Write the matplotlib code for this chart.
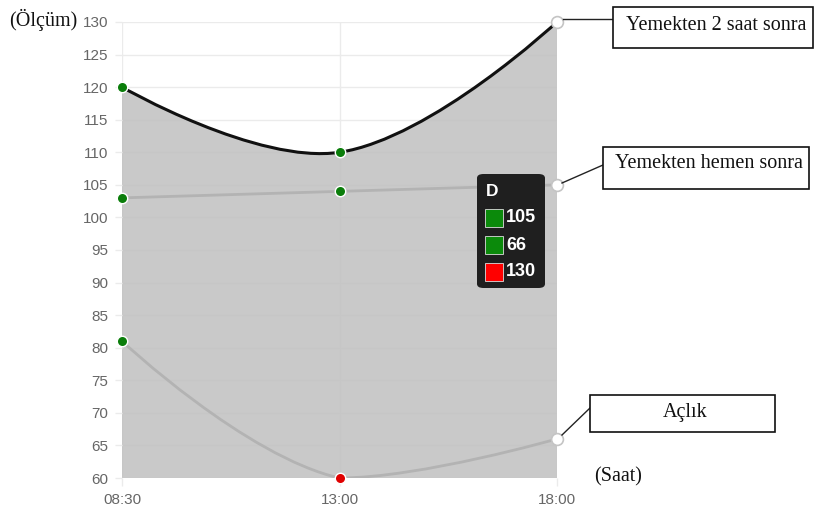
import matplotlib
matplotlib.use("Agg")
import matplotlib.pyplot as plt
from matplotlib.path import Path
from matplotlib.patches import PathPatch, FancyBboxPatch, Rectangle
from matplotlib.lines import Line2D
import numpy as np

# ---------------- data ----------------
times = ["08:30", "13:00", "18:00"]
after_2h = [120, 110, 130]          # Yemekten 2 saat sonra
right_after = [103, 104, 105]       # Yemekten hemen sonra
fasting = [81, 60, 66]              # Açlık
y_ticks = list(range(60, 131, 5))

series_names = ["Yemekten 2 saat sonra", "Yemekten hemen sonra", "Açlık"]
tooltip_title = "D"
tooltip_values = [105, 66, 130]
tooltip_colors = ["#0b8a0b", "#0b8a0b", "#ff0000"]

GREEN = "#0a7d0a"
RED = "#e00000"
point_colors_top = [GREEN, GREEN, "white"]
point_colors_mid = [GREEN, GREEN, "white"]
point_colors_low = [GREEN, RED, "white"]

# ---------------- figure ----------------
W, H = 819, 508
fig = plt.figure(figsize=(W / 100, H / 100), dpi=100)
L, R, T, B = 122, 557, 22, 478
ax = fig.add_axes([L / W, 1 - B / H, (R - L) / W, (B - T) / H])
x = np.arange(len(times))
ax.set_xlim(0, len(times) - 1)
ax.set_ylim(min(y_ticks), max(y_ticks))
sx = (R - L) / (len(times) - 1)
sy = (B - T) / (max(y_ticks) - min(y_ticks))


def fx(px):
    return px / W


def fy(py):
    return 1 - py / H


def spline(ys, tension=0.4):
    pts = [(xi * sx, yi * sy) for xi, yi in zip(x, ys)]
    ctrl = []
    n = len(pts)
    for i, p in enumerate(pts):
        if i == 0 or i == n - 1:
            ctrl.append((p, p))
            continue
        a, c = pts[i - 1], pts[i + 1]
        d01 = np.hypot(p[0] - a[0], p[1] - a[1])
        d12 = np.hypot(c[0] - p[0], c[1] - p[1])
        fa = tension * d01 / (d01 + d12)
        fb = tension * d12 / (d01 + d12)
        inner = (p[0] - fa * (c[0] - a[0]), p[1] - fa * (c[1] - a[1]))
        outer = (p[0] + fb * (c[0] - a[0]), p[1] + fb * (c[1] - a[1]))
        ctrl.append((inner, outer))
    lo, hi = min(y_ticks) * sy, max(y_ticks) * sy
    ctrl = [tuple((q[0], min(max(q[1], lo), hi)) for q in cp) for cp in ctrl]
    verts = [(pts[0][0] / sx, pts[0][1] / sy)]
    codes = [Path.MOVETO]
    for i in range(1, n):
        c1 = ctrl[i - 1][1]
        c2 = ctrl[i][0]
        verts += [(c1[0] / sx, c1[1] / sy), (c2[0] / sx, c2[1] / sy),
                  (pts[i][0] / sx, pts[i][1] / sy)]
        codes += [Path.CURVE4] * 3
    return verts, codes


# grid
grid_c = "#ebebeb"
for yt in y_ticks:
    ax.axhline(yt, color=grid_c, lw=1, zorder=0)
for xi in x:
    ax.axvline(xi, color=grid_c, lw=1, zorder=0)
for s in ax.spines.values():
    s.set_visible(False)
ax.set_xticks(x)
ax.set_xticklabels(times)
ax.set_yticks(y_ticks)
ax.tick_params(axis="y", length=5, width=1, color=grid_c, pad=5,
               labelsize=11, labelcolor="#666666")
ax.tick_params(axis="x", length=6, width=1, color=grid_c, pad=4.5,
               labelsize=11, labelcolor="#666666")
for lab in ax.get_xticklabels() + ax.get_yticklabels():
    lab.set_fontfamily("Liberation Sans")

# fill under top curve
v, c = spline(after_2h)
fv = v + [(x[-1], min(y_ticks)), (x[0], min(y_ticks)), (x[0], min(y_ticks))]
fc = c + [Path.LINETO, Path.LINETO, Path.CLOSEPOLY]
ax.add_patch(PathPatch(Path(fv, fc), facecolor=(0.751, 0.751, 0.751),
                       alpha=0.85, edgecolor="none", zorder=1))

# lines
for ys, col, lw in [(fasting, "#b3b3b3", 2.0), (right_after, "#b3b3b3", 2.0),
                    (after_2h, "#111111", 2.2)]:
    v, c = spline(ys)
    ax.add_patch(PathPatch(Path(v, c), facecolor="none", edgecolor=col,
                           lw=lw, zorder=3, capstyle="round"))

# points
for ys, pcs in [(after_2h, point_colors_top), (right_after, point_colors_mid),
                 (fasting, point_colors_low)]:
    for xi, yi, pc in zip(x, ys, pcs):
        if pc == "white":
            ax.plot(xi, yi, "o", ms=8.5, mfc="white", mec="#c4c4c4", mew=1.2,
                    zorder=5, clip_on=False)
        else:
            ax.plot(xi, yi, "o", ms=7.5, mfc=pc, mec="white", mew=1.0,
                    zorder=5, clip_on=False)

# tooltip
tb = FancyBboxPatch((fx(477), fy(288)), fx(545) - fx(477), fy(174) - fy(288),
                    boxstyle="round,pad=0,rounding_size=0.008",
                    transform=fig.transFigure, facecolor="#1f1f1f",
                    edgecolor="none", zorder=10)
fig.patches.append(tb)
fig.text(fx(486), fy(192), tooltip_title, color="white", fontsize=12.5,
         fontweight="bold", va="center", ha="left", family="Liberation Sans",
         zorder=11)
for i, (val, col) in enumerate(zip(tooltip_values, tooltip_colors)):
    yc = 218 + i * 27
    fig.patches.append(Rectangle((fx(485), fy(yc + 9)), fx(503) - fx(485),
                                 fy(yc - 9) - fy(yc + 9),
                                 transform=fig.transFigure, facecolor=col,
                                 edgecolor="#dddddd", lw=0.6, zorder=11))
    fig.text(fx(506), fy(yc), str(val), color="white", fontsize=13,
             fontweight="bold", va="center", ha="left",
             family="Liberation Sans", zorder=12)

# annotation boxes
serif = "Liberation Serif"
FS = 14.5
boxes = [
    (series_names[0], (613, 7, 813, 48), 25, [(563, 19), (613, 19)]),
    (series_names[1], (603, 147, 809, 189), 164, [(562, 183), (603, 165)]),
    (series_names[2], (590, 395, 775, 432), 412, [(562, 435), (590, 408)]),
]
for txt, (x0, y0, x1, y1), ty, ln in boxes:
    fig.patches.append(Rectangle((fx(x0), fy(y1)), fx(x1) - fx(x0),
                                 fy(y0) - fy(y1), transform=fig.transFigure,
                                 facecolor="white", edgecolor="#111111",
                                 lw=1.2, zorder=10))
    fig.text(fx((x0 + x1) / 2 + 3), fy(ty), txt, fontsize=FS, family=serif,
             ha="center", va="center", color="#111111", zorder=11)
    fig.lines.append(Line2D([fx(ln[0][0]), fx(ln[1][0])],
                            [fy(ln[0][1]), fy(ln[1][1])],
                            transform=fig.transFigure, color="#222222",
                            lw=1.0, zorder=9))

fig.text(fx(43), fy(20), "(Ölçüm)", fontsize=FS, family=serif,
         ha="center", va="center", color="#111111")
fig.text(fx(618), fy(477), "(Saat)", fontsize=FS, family=serif,
         ha="center", va="center", color="#111111")

fig.savefig("out.png", dpi=100)
